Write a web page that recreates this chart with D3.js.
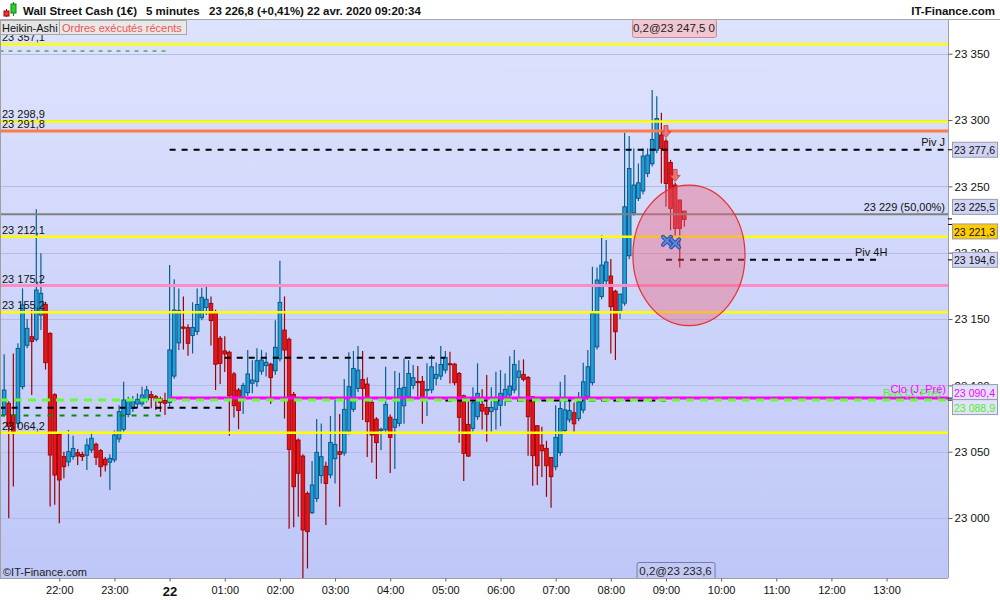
<!DOCTYPE html>
<html><head><meta charset="utf-8">
<script src="https://cdn.jsdelivr.net/npm/d3@7"></script>
<style>body{margin:0;background:#fff;overflow:hidden}svg{display:block;font-family:"Liberation Sans",Arial,sans-serif}</style>
</head><body><svg id="c" width="1000" height="600"></svg>
<script>
// ---------- DATA ----------
const firstCandle = "2020-04-21T21:00:00";   // 5-minute Heikin-Ashi candles
const opens = [23077.7,23086.5,23077.7,23071.4,23099,23130.2,23136.7,23134.7,23153,23161.1,
23139.2,23093,23063.1,23046.3,23042.3,23046.3,23049.3,23048,23047.3,23051.3,
23055.6,23050.8,23044.3,23042,23043.8,23059.6,23066.9,23078,23082.7,23086,
23086,23089,23093,23091.5,23090,23088.5,23087,23107,23132,23144,
23143.5,23137.6,23140.6,23151,23158.7,23161.8,23155.5,23135.5,23126,23125,
23108.6,23096.5,23088.7,23094.5,23101.6,23102.8,23110.7,23115,23116,23111,
23120,23141.7,23134.7,23093.2,23058.8,23046.7,23018.6,23004,23014.8,23032,
23039,23032.5,23044.7,23050,23049,23065.5,23082,23097.7,23104.5,23101,
23087.2,23074.6,23066,23066.5,23076,23068.4,23071.4,23084.6,23091.5,23100,
23102.9,23103,23096,23096.6,23105.3,23107,23111.5,23116.3,23116,23109,
23092.2,23070.6,23067.6,23076.4,23085.7,23083.4,23080.2,23081.9,23085,23090,
23092.7,23096.5,23106,23108.3,23106,23091.4,23069.6,23055,23052.5,23045.7,
23038.7,23049.3,23066,23074,23079.4,23075,23081.4,23091.5,23102,23129,
23167,23178.8,23182.4,23171,23155.7,23162,23197.7,23230,23241,23246.5,
23259.8,23267,23277.3,23288.7,23284.1,23268,23251,23239.7,23231.4];
const highs = [23123.4,23088,23124.1,23131.7,23173.1,23150,23156.8,23232.7,23199.5,23163,
23140,23094,23064,23050,23066.4,23062,23052,23050,23060,23065,
23057,23052,23046,23048,23066,23085,23102.8,23091.5,23092,23094,
23099,23099.5,23095.7,23092.8,23091.5,23094.5,23190.7,23180,23173,23167,
23146,23162.6,23173,23173.6,23176,23167,23157,23137.2,23137,23126,
23110,23098,23102,23126.7,23119,23128,23126.7,23124.7,23117,23149,
23194,23167,23136,23095,23060,23048,23020,23043,23074.6,23071.3,
23042.5,23077,23089,23078.4,23104.8,23124.9,23125.9,23129.6,23125.9,23106,
23089,23076,23068,23114,23078,23110.8,23109.5,23120.3,23119,23115.3,
23114.6,23107,23116.6,23122.8,23117.3,23129.6,23125.9,23125.4,23117,23110,
23093,23088,23098.5,23116.6,23097,23107.8,23098.5,23110.3,23111.6,23109,
23122,23126.6,23119,23119.6,23107,23092,23070,23068.8,23058.3,23046,
23085,23102.8,23107.8,23091,23087,23095,23117,23126.6,23189.4,23188.9,
23213.3,23209.5,23195.2,23172,23169,23290.4,23288,23278.6,23267.3,23278.6,
23278.6,23322.6,23318,23305.5,23286,23270,23253,23240,23231.5];
const lows = [23076.4,22999.8,23023.7,23068,23097,23128,23092.7,23133,23141.7,23112,
23008.6,23010,22996,23030,23039,23044,23040,23043,23036.2,23049,
23040,23031.2,23035,23021.1,23042,23057,23064,23076,23080,23083,
23084,23087,23082.7,23081.5,23080,23077.7,23084,23105,23126.7,23127,
23122.4,23124,23138,23149,23153,23130,23096.5,23101,23110,23062,
23075.7,23067,23078.5,23092,23094,23099,23108,23106.6,23086,23108,
23118,23075,22992,22993,23001,22954,22962,23003,23012,23026,
22994.7,23030,23026,23008.5,23047,23063,23080,23095,23073.9,23046,
23041.7,23029.4,23051,23064,23034,23037,23069,23071,23089,23097,
23091.5,23071,23077,23094,23100,23104,23109,23101.5,23100,23056.8,
23028,23046,23065,23074,23066.8,23057.5,23065,23066.8,23069.3,23084.4,
23090,23094,23091,23103,23047,23024.4,23024.9,23031,23016,23007.8,
23036,23047,23064,23072,23065,23073,23079,23089,23100,23127,
23165,23176,23124,23119.1,23150,23160,23195,23228,23239,23244,
23257,23265,23275,23252.2,23234.6,23217,23212,23188.9,23219.5];
const closes = [23096.5,23068.9,23065.1,23127.9,23160.6,23143,23133,23171.9,23169.4,23117.1,
23047.5,23032.4,23028.7,23038.7,23050,23052.5,23046.8,23046.3,23055,23060.1,
23045.8,23038.7,23040,23045,23062.6,23080.2,23089,23089,23087.7,23089.5,
23092.7,23096.5,23090.7,23089,23087,23086.5,23126.7,23156.8,23156.3,23143,
23131.7,23143.7,23161,23166.4,23164.9,23148.8,23115.9,23116.6,23123.7,23092.2,
23084.7,23081,23100,23108.6,23104,23118.6,23119.1,23117.4,23105.8,23128.7,
23162.6,23126.6,23051.7,23023.6,23033.7,22991,22989.7,23024.9,23049.5,23046.2,
23026,23057,23055.5,23048,23081.9,23099,23112.8,23111.5,23097.7,23072.6,
23062.6,23056.8,23067,23085.7,23060.8,23074.4,23097.7,23098.5,23109,23105.8,
23102,23089,23097,23114,23108.3,23115.8,23121.1,23116,23102,23075.9,
23048.7,23046.7,23086.9,23094,23080.6,23078.2,23083.4,23087.7,23094,23097,
23099.5,23115.8,23110.8,23104.5,23076.4,23047,23039.4,23050.7,23039.4,23031.2,
23060.8,23082.6,23081.5,23081,23071,23087.6,23102.7,23114,23154.2,23179.4,
23190.7,23193,23159.3,23140.4,23168.8,23234.6,23263.5,23251,23252.7,23272.8,
23273.6,23285.4,23301.2,23278.6,23252.2,23233.4,23218.3,23218.3,23225];

const priceTicks = [23000,23050,23100,23150,23200,23250,23300,23350];
const hourTicks = ["2020-04-21T22:00:00","2020-04-21T23:00:00","2020-04-22T00:00:00","2020-04-22T01:00:00",
"2020-04-22T02:00:00","2020-04-22T03:00:00","2020-04-22T04:00:00","2020-04-22T05:00:00","2020-04-22T06:00:00",
"2020-04-22T07:00:00","2020-04-22T08:00:00","2020-04-22T09:00:00","2020-04-22T10:00:00","2020-04-22T11:00:00",
"2020-04-22T12:00:00","2020-04-22T13:00:00"];
const yellowLevels = [23357.1, 23298.9, 23212.1, 23155.2, 23064.2];
const orangeLevel = 23291.8, pinkLevel = 23175.2, fiftyLevel = 23229;
const pivJ = 23277.6, piv4H = 23194.6, cloJPre = 23090.4, basJPre = 23088.9;
const sideLevels = [23357.1, 23298.9, 23291.8, 23212.1, 23175.2, 23155.2, 23064.2];
const dashBlack = [[23083.2,"2020-04-21T20:55:00","2020-04-22T01:00:00"],[23120.8,"2020-04-22T01:00:00","2020-04-22T05:00:00"],[23088.5,"2020-04-22T05:00:00","2020-04-22T09:00:00"]];
const dashDarkGreen = [[23077.2,"2020-04-21T20:55:00","2020-04-21T23:57:00"],[23352,"2020-04-21T20:55:00","2020-04-22T00:00:00"]];
const axisBoxes = [[23277.6,"n"],[23225.5,"n"],[23221.3,"y"],[23194.6,"n"],[23090.4,"m"],[23088.9,"g"]];
const header = ["Wall Street Cash (1€)","5 minutes","23 226,8 (+0,41%)","22 avr. 2020 09:20:34"];

// ---------- SETUP ----------
const svg = d3.select("#c");
const L=0, R=948, T=20, B=578;
const parse = d3.timeParse("%Y-%m-%dT%H:%M:%S");
const fr = d3.formatLocale({decimal:",",thousands:"\u00a0",grouping:[3],currency:["","€"]});
const f0 = fr.format(",.0f"), f1 = fr.format(",.1f");
const x = d3.scaleTime().domain([parse("2020-04-21T20:55:29"), parse("2020-04-22T14:06:50")]).range([L,R]);
const y = d3.scaleLinear().domain([22954.8, 23375.4]).range([B,T]);
const t0 = parse(firstCandle);
const candles = opens.map((o,i)=>({t:d3.timeMinute.offset(t0,5*i),o,h:highs[i],l:lows[i],c:closes[i]}));

const defs = svg.append("defs");
const g = defs.append("linearGradient").attr("id","bg").attr("x1",0).attr("x2",0).attr("y1",0).attr("y2",1);
g.append("stop").attr("offset","0%").attr("stop-color","#dde3fc");
g.append("stop").attr("offset","100%").attr("stop-color","#bfc7f8");
defs.append("clipPath").attr("id","clip").append("rect").attr("x",L).attr("y",T).attr("width",R-L).attr("height",B-T);

svg.append("rect").attr("width",1000).attr("height",600).attr("fill","#fff");
svg.append("rect").attr("x",L).attr("y",T).attr("width",R-L).attr("height",B-T).attr("fill","url(#bg)");

const plot = svg.append("g").attr("clip-path","url(#clip)");
// grid
plot.selectAll(".grid").data(priceTicks).join("line")
  .attr("x1",L).attr("x2",R).attr("y1",d=>Math.round(y(d))+0.5).attr("y2",d=>Math.round(y(d))+0.5)
  .attr("stroke","#b3bbe6").attr("stroke-width",1);

// candles
const cg = plot.append("g");
cg.selectAll("line.w").data(candles).join("line")
  .attr("x1",d=>x(d.t)).attr("x2",d=>x(d.t)).attr("y1",d=>y(d.h)).attr("y2",d=>y(d.l))
  .attr("stroke",d=>d.c>=d.o?"#0b5e8e":"#9c0000").attr("stroke-width",1.2);
cg.selectAll("rect.b").data(candles).join("rect")
  .attr("x",d=>x(d.t)-1.8).attr("width",3.6)
  .attr("y",d=>y(Math.max(d.o,d.c))).attr("height",d=>Math.max(1,Math.abs(y(d.o)-y(d.c))))
  .attr("fill",d=>d.c>=d.o?"#1fa0dc":"#e8141c")
  .attr("stroke",d=>d.c>=d.o?"#0a5080":"#a00000").attr("stroke-width",0.9);

// levels
function hline(p,x1,x2,col,w,dash){
  plot.append("line").attr("x1",x1).attr("x2",x2).attr("y1",y(p)).attr("y2",y(p))
    .attr("stroke",col).attr("stroke-width",w).attr("stroke-dasharray",dash||null);
}
dashDarkGreen.forEach((d,i)=>hline(d[0],x(parse(d[1])),x(parse(d[2])),"#0a8a0a",i==1?1:2,i==1?"4,5":"5,7"));
hline(pinkLevel,L,R,"#ff8cc6",3);
hline(orangeLevel,L,R,"#ff7a45",3);
hline(fiftyLevel,L,R,"#808080",2);
yellowLevels.forEach(p=>hline(p,L,R,"#ffff00",2.5));
dashBlack.forEach(d=>hline(d[0],x(parse(d[1])),x(parse(d[2])),"#000",2,"6,6"));
hline(cloJPre,x(parse("2020-04-22T00:00:00")),R,"#ff00ff",3);
hline(basJPre,L,R,"#66ff33",3,"8,6");
hline(pivJ,x(parse("2020-04-22T00:00:00")),R,"#000",2,"6,6");
hline(piv4H,x(parse("2020-04-22T09:00:00")),x(parse("2020-04-22T12:54:00")),"#000",2,"6,6");

// ellipse annotation
const ct = parse("2020-04-22T09:25:00");
plot.append("ellipse").attr("cx",x(ct)).attr("cy",y(23198))
  .attr("rx",x(parse("2020-04-22T10:26:00"))-x(ct)).attr("ry",y(23145)-y(23198))
  .attr("fill","rgba(238,100,125,0.42)").attr("stroke","#e83030").attr("stroke-width",1.2);

// sell arrows above candles
[144,146].forEach(i=>{
  const cx=x(candles[i].t), yb=y(candles[i].h)-1;
  plot.append("path").attr("d",`M${cx-2},${yb-12}h4v6h3l-5,6l-5,-6h3z`)
    .attr("fill","#f07474").attr("stroke","#c83a3a").attr("stroke-width",0.8);
});
// blue execution marks
[[144,23209],[146,23207]].forEach(([i,p])=>{
  const cx=x(candles[i].t)+(i==144?1:0), cy=y(p);
  plot.append("path").attr("d",`M${cx-4},${cy-4}L${cx+4},${cy+4}M${cx+4},${cy-4}L${cx-4},${cy+4}`)
    .attr("stroke","#2a4fa8").attr("stroke-width",4).attr("stroke-linecap","round");
  plot.append("path").attr("d",`M${cx-4},${cy-4}L${cx+4},${cy+4}M${cx+4},${cy-4}L${cx-4},${cy+4}`)
    .attr("stroke","#5a8ae0").attr("stroke-width",2).attr("stroke-linecap","round");
});

// level text
const tx = svg.append("g").attr("font-size",11).attr("fill","#111");
sideLevels.forEach(p=>tx.append("text").attr("x",2).attr("y",y(p)-3).text(f1(p)));
tx.append("text").attr("x",945).attr("y",y(pivJ)-4).attr("text-anchor","end").text("Piv J");
tx.append("text").attr("x",945).attr("y",y(fiftyLevel)-3).attr("text-anchor","end").text(f0(fiftyLevel)+" (50,00%)");
tx.append("text").attr("x",855).attr("y",y(piv4H)-4).text("Piv 4H");
tx.append("text").attr("x",941).attr("y",y(basJPre)-3).attr("text-anchor","end").attr("fill","#55ee22").text("Bas (J, Pré)");
tx.append("text").attr("x",946).attr("y",y(cloJPre)-5).attr("text-anchor","end").attr("fill","#ff00ff").text("Clo (J, Pré)");
tx.append("text").attr("x",3).attr("y",576).attr("fill","#222").text("©IT-Finance.com");

// order boxes
function box(x1,y1,w,h,fill,stroke,txt){
  svg.append("rect").attr("x",x1+0.5).attr("y",y1+0.5).attr("width",w).attr("height",h).attr("rx",2)
    .attr("fill",fill).attr("stroke",stroke);
  svg.append("text").attr("x",x1+w/2).attr("y",y1+h/2+4).attr("text-anchor","middle").attr("font-size",11.5).attr("fill","#222").text(txt);
}
box(x(parse("2020-04-22T08:23:00")),19,84,18,"#f0c6d0","#c88a9a","0,2@"+f1(23247.5)+" 0");
box(x(parse("2020-04-22T08:28:00")),562,78,17,"#c3c9f4","#6f7fb0","0,2@"+f1(23233.6));

// frame
svg.append("line").attr("x1",0.5).attr("x2",0.5).attr("y1",T).attr("y2",B).attr("stroke","#a0a0a0");
svg.append("rect").attr("x",R).attr("y",0).attr("width",1000-R).attr("height",600).attr("fill","#fff");
svg.append("rect").attr("x",0).attr("y",B).attr("width",1000).attr("height",22).attr("fill","#fff");

// axes
const ya = svg.append("g").attr("transform",`translate(${R+0.5},0)`)
  .call(d3.axisRight(y).tickValues(priceTicks).tickFormat(f0).tickSize(4).tickPadding(2));
ya.select(".domain").attr("stroke","#a0a0a0").attr("d",`M0,${T}V${B}`);
ya.selectAll(".tick line").attr("stroke","#606060");
ya.selectAll("text").attr("font-size",11.5).attr("fill","#111").attr("font-family","Liberation Sans, Arial");

const xa = svg.append("g").attr("transform",`translate(0,${B+0.5})`)
  .call(d3.axisBottom(x).tickValues(hourTicks.map(parse)).tickSize(3).tickPadding(5)
    .tickFormat(d=>d.getHours()===0?d3.timeFormat("%d")(d):d3.timeFormat("%H:%M")(d)));
xa.select(".domain").attr("stroke","#a0a0a0").attr("d",`M0,0H${R}`);
xa.selectAll(".tick line").attr("stroke","#606060");
xa.selectAll("text").attr("fill","#111").attr("font-family","Liberation Sans, Arial")
  .attr("font-weight",d=>d.getHours()===0?"bold":"normal").style("font-size",d=>d.getHours()===0?"13px":"11px");

// axis value boxes (nudged to avoid overlap)
const nudge = {0:0,1:-12,2:7,3:0,4:-6,5:7};
axisBoxes.forEach(([p,k],i)=>{
  const yy = y(p), cy = yy + nudge[i];
  svg.append("line").attr("x1",R).attr("x2",R+4).attr("y1",yy).attr("y2",yy).attr("stroke","#000");
  const fill = k==="y"?"#ffcc00":(k==="m"||k==="g")?"#dfe3fb":"#cfd3f5";
  const col = k==="m"?"#ff00ff":k==="g"?"#55ee22":"#111";
  svg.append("rect").attr("x",R+4.5).attr("y",cy-7.5).attr("width",45).attr("height",15)
    .attr("fill",fill).attr("stroke","#9a9aaa");
  svg.append("text").attr("x",R+6).attr("y",cy+4.5).attr("font-size",11.5).attr("fill",col)
    .attr("textLength",41).attr("lengthAdjust","spacingAndGlyphs").text(f1(p));
});

// header
svg.append("rect").attr("x",0).attr("y",0).attr("width",1000).attr("height",19).attr("fill","#fff");
svg.append("line").attr("x1",0).attr("x2",1000).attr("y1",19.5).attr("y2",19.5).attr("stroke","#a8a8a8");
// icon
svg.append("line").attr("x1",6.5).attr("x2",6.5).attr("y1",9).attr("y2",17).attr("stroke","#a00");
svg.append("rect").attr("x",4).attr("y",11).attr("width",5).attr("height",5).attr("fill","#e33").attr("stroke","#a00");
svg.append("line").attr("x1",13.5).attr("x2",13.5).attr("y1",2).attr("y2",16).attr("stroke","#080");
svg.append("rect").attr("x",11).attr("y",4).attr("width",5).attr("height",9).attr("fill","#3c3").attr("stroke","#080");
const hx = [23,146,209,307];
header.forEach((s,i)=>svg.append("text").attr("x",hx[i]).attr("y",15).attr("font-size",11.5).attr("font-weight","bold").attr("fill","#111").text(s));
svg.append("text").attr("x",995).attr("y",15).attr("text-anchor","end").attr("font-size",11.5).attr("font-weight","bold").attr("fill","#111").text("IT-Finance.com");

// tabs
svg.append("rect").attr("x",0.5).attr("y",20.5).attr("width",59).attr("height",14).attr("fill","#e4e4e4").attr("stroke","#a8a8a8");
svg.append("text").attr("x",2).attr("y",32).attr("font-size",11).attr("fill","#111").text("Heikin-Ashi");
svg.append("rect").attr("x",59.5).attr("y",20.5).attr("width",127).attr("height",14).attr("fill","#e8e8e8").attr("stroke","#a8a8a8");
svg.append("text").attr("x",62).attr("y",32).attr("font-size",11).attr("fill","#ee5555").text("Ordres exécutés récents");
</script></body></html>
